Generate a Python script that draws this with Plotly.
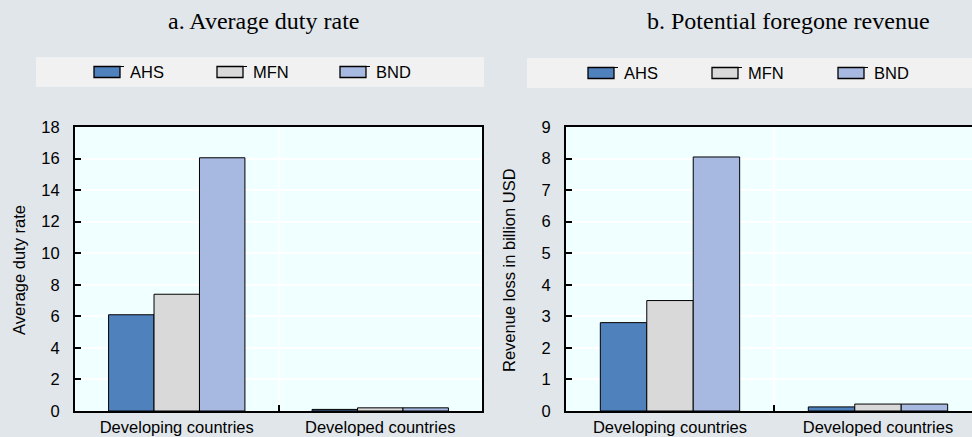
import plotly.graph_objects as go

W, H = 972, 437

categorias = ['Developing countries', 'Developed countries']
series = ['AHS', 'MFN', 'BND']
cores = ['#4F81BD', '#D9D9D9', '#A7B8E1']

# a. Average duty rate
taxa_ahs = [6.1, 0.1]
taxa_mfn = [7.4, 0.2]
taxa_bnd = [16.05, 0.2]

# b. Potential foregone revenue (billion USD)
receita_ahs = [2.8, 0.13]
receita_mfn = [3.5, 0.22]
receita_bnd = [8.05, 0.22]

titulos = ['a. Average duty rate', 'b. Potential foregone revenue']
titulos_y = ['Average duty rate', 'Revenue loss in billion USD']

fonte = 'Liberation Sans Narrow, Arial Narrow, Liberation Sans, Arial'
fonte_titulo = 'Liberation Serif, Times New Roman, serif'
tam = 16.5

def px_x(v):
    return v / W

def px_y(v):
    return 1 - v / H

fig = go.Figure()

for nome, cor, valores in zip(series, cores, [taxa_ahs, taxa_mfn, taxa_bnd]):
    fig.add_trace(go.Bar(x=categorias, y=valores, name=nome, marker_color=cor,
                         marker_line=dict(color='black', width=1),
                         xaxis='x', yaxis='y', showlegend=False))

for nome, cor, valores in zip(series, cores, [receita_ahs, receita_mfn, receita_bnd]):
    fig.add_trace(go.Bar(x=categorias, y=valores, name=nome, marker_color=cor,
                         marker_line=dict(color='black', width=1),
                         xaxis='x2', yaxis='y2', showlegend=False))

eixo_x = dict(showline=True, linecolor='black', linewidth=2, mirror=True,
              ticks='inside', ticklen=6, tickcolor='black', tickwidth=1.5,
              tickson='boundaries', showgrid=True, gridcolor='white', gridwidth=1.5,
              tickfont=dict(family=fonte, size=tam, color='black'),
              ticklabelstandoff=0, automargin=False, fixedrange=True)
eixo_y = dict(showline=True, linecolor='black', linewidth=2,
              ticks='inside', ticklen=6, tickcolor='black', tickwidth=1.5,
              showgrid=True, gridcolor='white', gridwidth=1.5, zeroline=False,
              tickfont=dict(family=fonte, size=tam, color='black'),
              ticklabelstandoff=10, automargin=False, fixedrange=True)

y0, y1 = px_y(411), px_y(127)

fig.update_layout(
    width=W, height=H,
    margin=dict(l=0, r=0, t=0, b=0, autoexpand=False),
    paper_bgcolor='#E1E6EB',
    plot_bgcolor='#F0FFFF',
    barmode='group', bargap=0.33, bargroupgap=0,
    xaxis=dict(eixo_x, domain=[px_x(75), px_x(482)], anchor='y', range=[-0.5, 1.5]),
    yaxis=dict(eixo_y, domain=[y0, y1], anchor='x', range=[0, 18], dtick=2, mirror=True),
    xaxis2=dict(eixo_x, domain=[px_x(566), 1], anchor='y2', range=[-0.5, 1.452]),
    yaxis2=dict(eixo_y, domain=[y0, y1], anchor='x2', range=[0, 9], dtick=1, mirror=False),
    font=dict(family=fonte, size=tam, color='black'),
)

# titulos dos paineis
for texto, xc in zip(titulos, [263, 788]):
    fig.add_annotation(text=texto, x=px_x(xc), y=px_y(21), xref='paper', yref='paper',
                       xanchor='center', yanchor='middle', showarrow=False,
                       font=dict(family=fonte_titulo, size=24, color='black'))

# titulos dos eixos y
for texto, xc in zip(titulos_y, [19, 509]):
    fig.add_annotation(text=texto, x=px_x(xc), y=px_y(270), xref='paper', yref='paper',
                       xanchor='center', yanchor='middle', showarrow=False, textangle=-90,
                       font=dict(family=fonte, size=tam, color='black'))

# legendas desenhadas (caixa cinza + simbolos)
caixas = [(36, 484, 57, 87), (527, 972, 58, 88)]
inicio_simbolos = [[94, 217, 340], [588, 712, 838]]
for (cx0, cx1, cy0, cy1), posicoes in zip(caixas, inicio_simbolos):
    fig.add_shape(type='rect', xref='paper', yref='paper',
                  x0=px_x(cx0), x1=px_x(cx1), y0=px_y(cy1), y1=px_y(cy0),
                  fillcolor='#F1F1F1', line_width=0, layer='below')
    ym = (cy0 + cy1) / 2
    for nome, cor, sx in zip(series, cores, posicoes):
        fig.add_shape(type='rect', xref='paper', yref='paper',
                      x0=px_x(sx), x1=px_x(sx + 26), y0=px_y(ym + 5.5), y1=px_y(ym - 5.5),
                      fillcolor=cor, line=dict(color='black', width=1.3))
        fig.add_shape(type='line', xref='paper', yref='paper',
                      x0=px_x(sx + 26), x1=px_x(sx + 30), y0=px_y(ym - 5.5), y1=px_y(ym - 5.5),
                      line=dict(color='black', width=1))
        fig.add_annotation(text=nome, x=px_x(sx + 34), y=px_y(ym), xref='paper', yref='paper',
                           xanchor='left', yanchor='middle', showarrow=False,
                           font=dict(family=fonte, size=tam, color='black'))

fig.write_html('out.html', config={'displayModeBar': False},
               post_script="document.body.style.margin='0';")
